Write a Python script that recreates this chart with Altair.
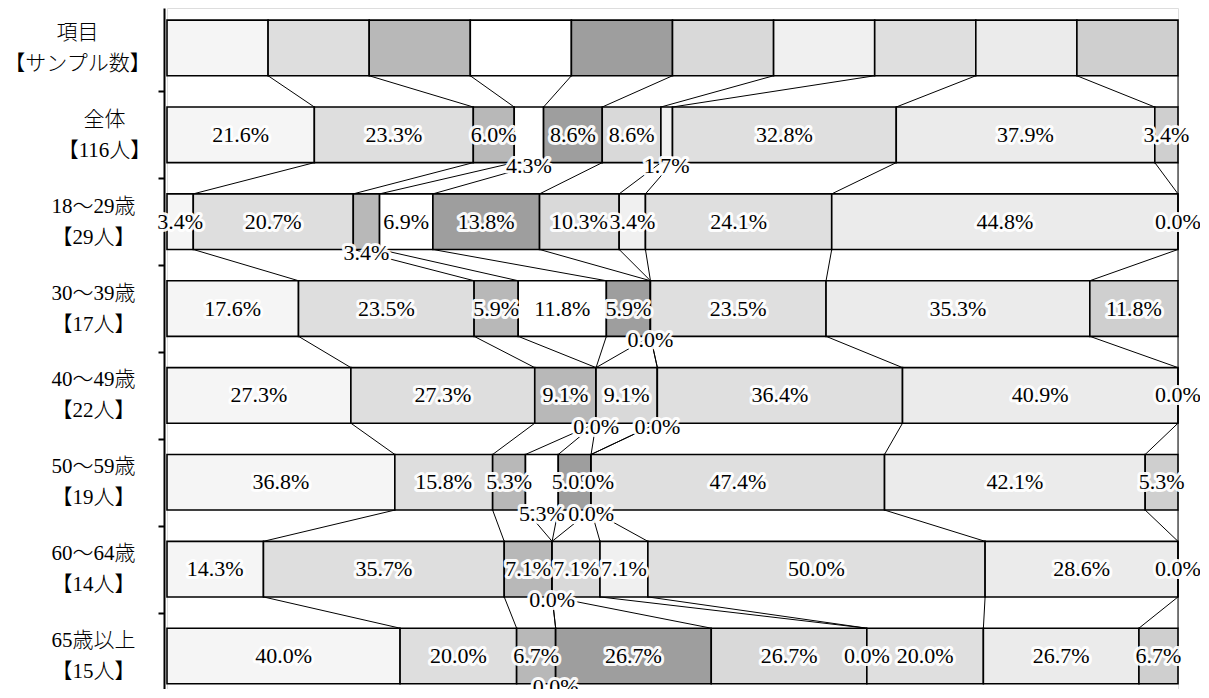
import altair as alt
import pandas as pd

# ---------------- data ----------------
rows = ["項目", "全体", "18〜29歳", "30〜39歳", "40〜49歳", "50〜59歳", "60〜64歳", "65歳以上"]
samples = ["サンプル数", "116人", "29人", "17人", "22人", "19人", "14人", "15人"]
items = ["項目1", "項目2", "項目3", "項目4", "項目5", "項目6", "項目7", "項目8", "項目9", "項目10"]

v_header = [1, 1, 1, 1, 1, 1, 1, 1, 1, 1]
v_all = [21.6, 23.3, 6.0, 4.3, 8.6, 8.6, 1.7, 32.8, 37.9, 3.4]
v_18 = [3.4, 20.7, 3.4, 6.9, 13.8, 10.3, 3.4, 24.1, 44.8, 0.0]
v_30 = [17.6, 23.5, 5.9, 11.8, 5.9, 0.0, 0.0, 23.5, 35.3, 11.8]
v_40 = [27.3, 27.3, 9.1, 0.0, 0.0, 9.1, 0.0, 36.4, 40.9, 0.0]
v_50 = [36.8, 15.8, 5.3, 5.3, 5.3, 0.0, 0.0, 47.4, 42.1, 5.3]
v_60 = [14.3, 35.7, 7.1, 0.0, 0.0, 7.1, 7.1, 50.0, 28.6, 0.0]
v_65 = [40.0, 20.0, 6.7, 0.0, 26.7, 26.7, 0.0, 20.0, 26.7, 6.7]
all_vals = [v_header, v_all, v_18, v_30, v_40, v_50, v_60, v_65]

# labels that sit on the lower edge of their bar (row index -> item indexes)
label_below = {1: [3, 6], 2: [2], 3: [5, 6], 4: [3, 4, 6], 5: [3, 6], 6: [3, 4], 7: [3]}

# ---------------- style ----------------
fills = ["#f5f5f5", "#dedede", "#b8b8b8", "#ffffff", "#9e9e9e",
         "#d9d9d9", "#f0f0f0", "#dfdfdf", "#ebebeb", "#cfcfcf"]
H = 0.32          # half bar thickness in row units
YMIN, YMAX = -0.46, 7.38
HEIGHT = 681
WIDTH = 1011
S = HEIGHT / (YMAX - YMIN)
LINE_H = 31
NUMFONT = "Liberation Serif"
JPFONT = "Liberation Serif, Noto Sans CJK JP"

# ---------------- build tables ----------------
bars, conns, labs = [], [], []
cums = []
for r, vals in enumerate(all_vals):
    tot = sum(vals)
    c = [0.0]
    for v in vals:
        c.append(c[-1] + v / tot)
    cums.append(c)
    for k, v in enumerate(vals):
        bars.append(dict(row=r, item=items[k], x=c[k], x2=c[k + 1], y=r - H, y2=r + H))
        if r > 0:
            below = k in label_below.get(r, [])
            labs.append(dict(x=round((c[k] + c[k + 1]) / 2, 6),
                             y=(r + H + 0.04) if below else r,
                             text=f"{v:.1f}%", zero=(v == 0)))
for r in range(len(all_vals) - 1):
    for k in range(1, len(items) + 1):
        conns.append(dict(x=cums[r][k], x2=cums[r + 1][k], y=r + H, y2=r + 1 - H))

bars = pd.DataFrame(bars)
conns = pd.DataFrame(conns)
labs = pd.DataFrame(labs).drop_duplicates(subset=["x", "y", "text"])

xs = alt.Scale(domain=[0, 1], nice=False, zero=False)
ys = alt.Scale(domain=[YMIN, YMAX], nice=False, zero=False, reverse=True)

label_arr = ",".join("'" + a + "|【" + b + "】'" for a, b in zip(rows, samples))
label_expr = f"split([{label_arr}][datum.value], '|')"

yaxis = alt.Axis(
    values=list(range(len(rows))), labelExpr=label_expr, title=None, grid=False,
    tickOffset=-S / 2, labelOffset=S / 2 - LINE_H / 2, tickSize=6, tickWidth=2,
    tickColor="black", domainColor="black", domainWidth=2, offset=3,
    labelAlign="center", labelBaseline="middle", labelFont=JPFONT, labelFontSize=21,
    labelFontWeight=300, labelLineHeight=LINE_H, labelColor="black", labelOverlap=False,
    labelPadding={"condition": [{"test": "datum.value == 0", "value": 81},
                                {"test": "datum.value == 1", "value": 54}],
                  "value": 65},
)

X = alt.X("x:Q", scale=xs, axis=None)
Y = alt.Y("y:Q", scale=ys, axis=yaxis)

bar_layer = alt.Chart(bars).mark_rect(stroke="black", strokeWidth=1.6).encode(
    x=X, x2="x2:Q", y=Y, y2="y2:Q",
    fill=alt.Fill("item:N", scale=alt.Scale(domain=items, range=fills), legend=None),
)

conn_layer = alt.Chart(conns).mark_rule(color="black", strokeWidth=1).encode(
    x=X, x2="x2:Q", y=Y, y2="y2:Q",
)


def text_layers(df):
    base = alt.Chart(df).encode(x=X, y=Y, text="text:N")
    halo = base.mark_text(font=NUMFONT, fontSize=22, stroke="white", strokeWidth=6,
                          strokeJoin="round", strokeOpacity=0.95, fill="white")
    txt = base.mark_text(font=NUMFONT, fontSize=22, color="black")
    return [halo, txt]


nonzero = labs[~labs["zero"]].drop(columns="zero")
zero = labs[labs["zero"]].drop(columns="zero")

chart = alt.layer(
    bar_layer, conn_layer, *text_layers(nonzero), *text_layers(zero)
).properties(
    width=WIDTH, height=HEIGHT,
    padding={"left": 159, "top": 0, "right": 22, "bottom": 0},
    autosize="none",
).configure_view(strokeWidth=0, stroke="transparent").configure(background="white")

chart.save("out.html", embed_options={"renderer": "svg", "actions": False})
